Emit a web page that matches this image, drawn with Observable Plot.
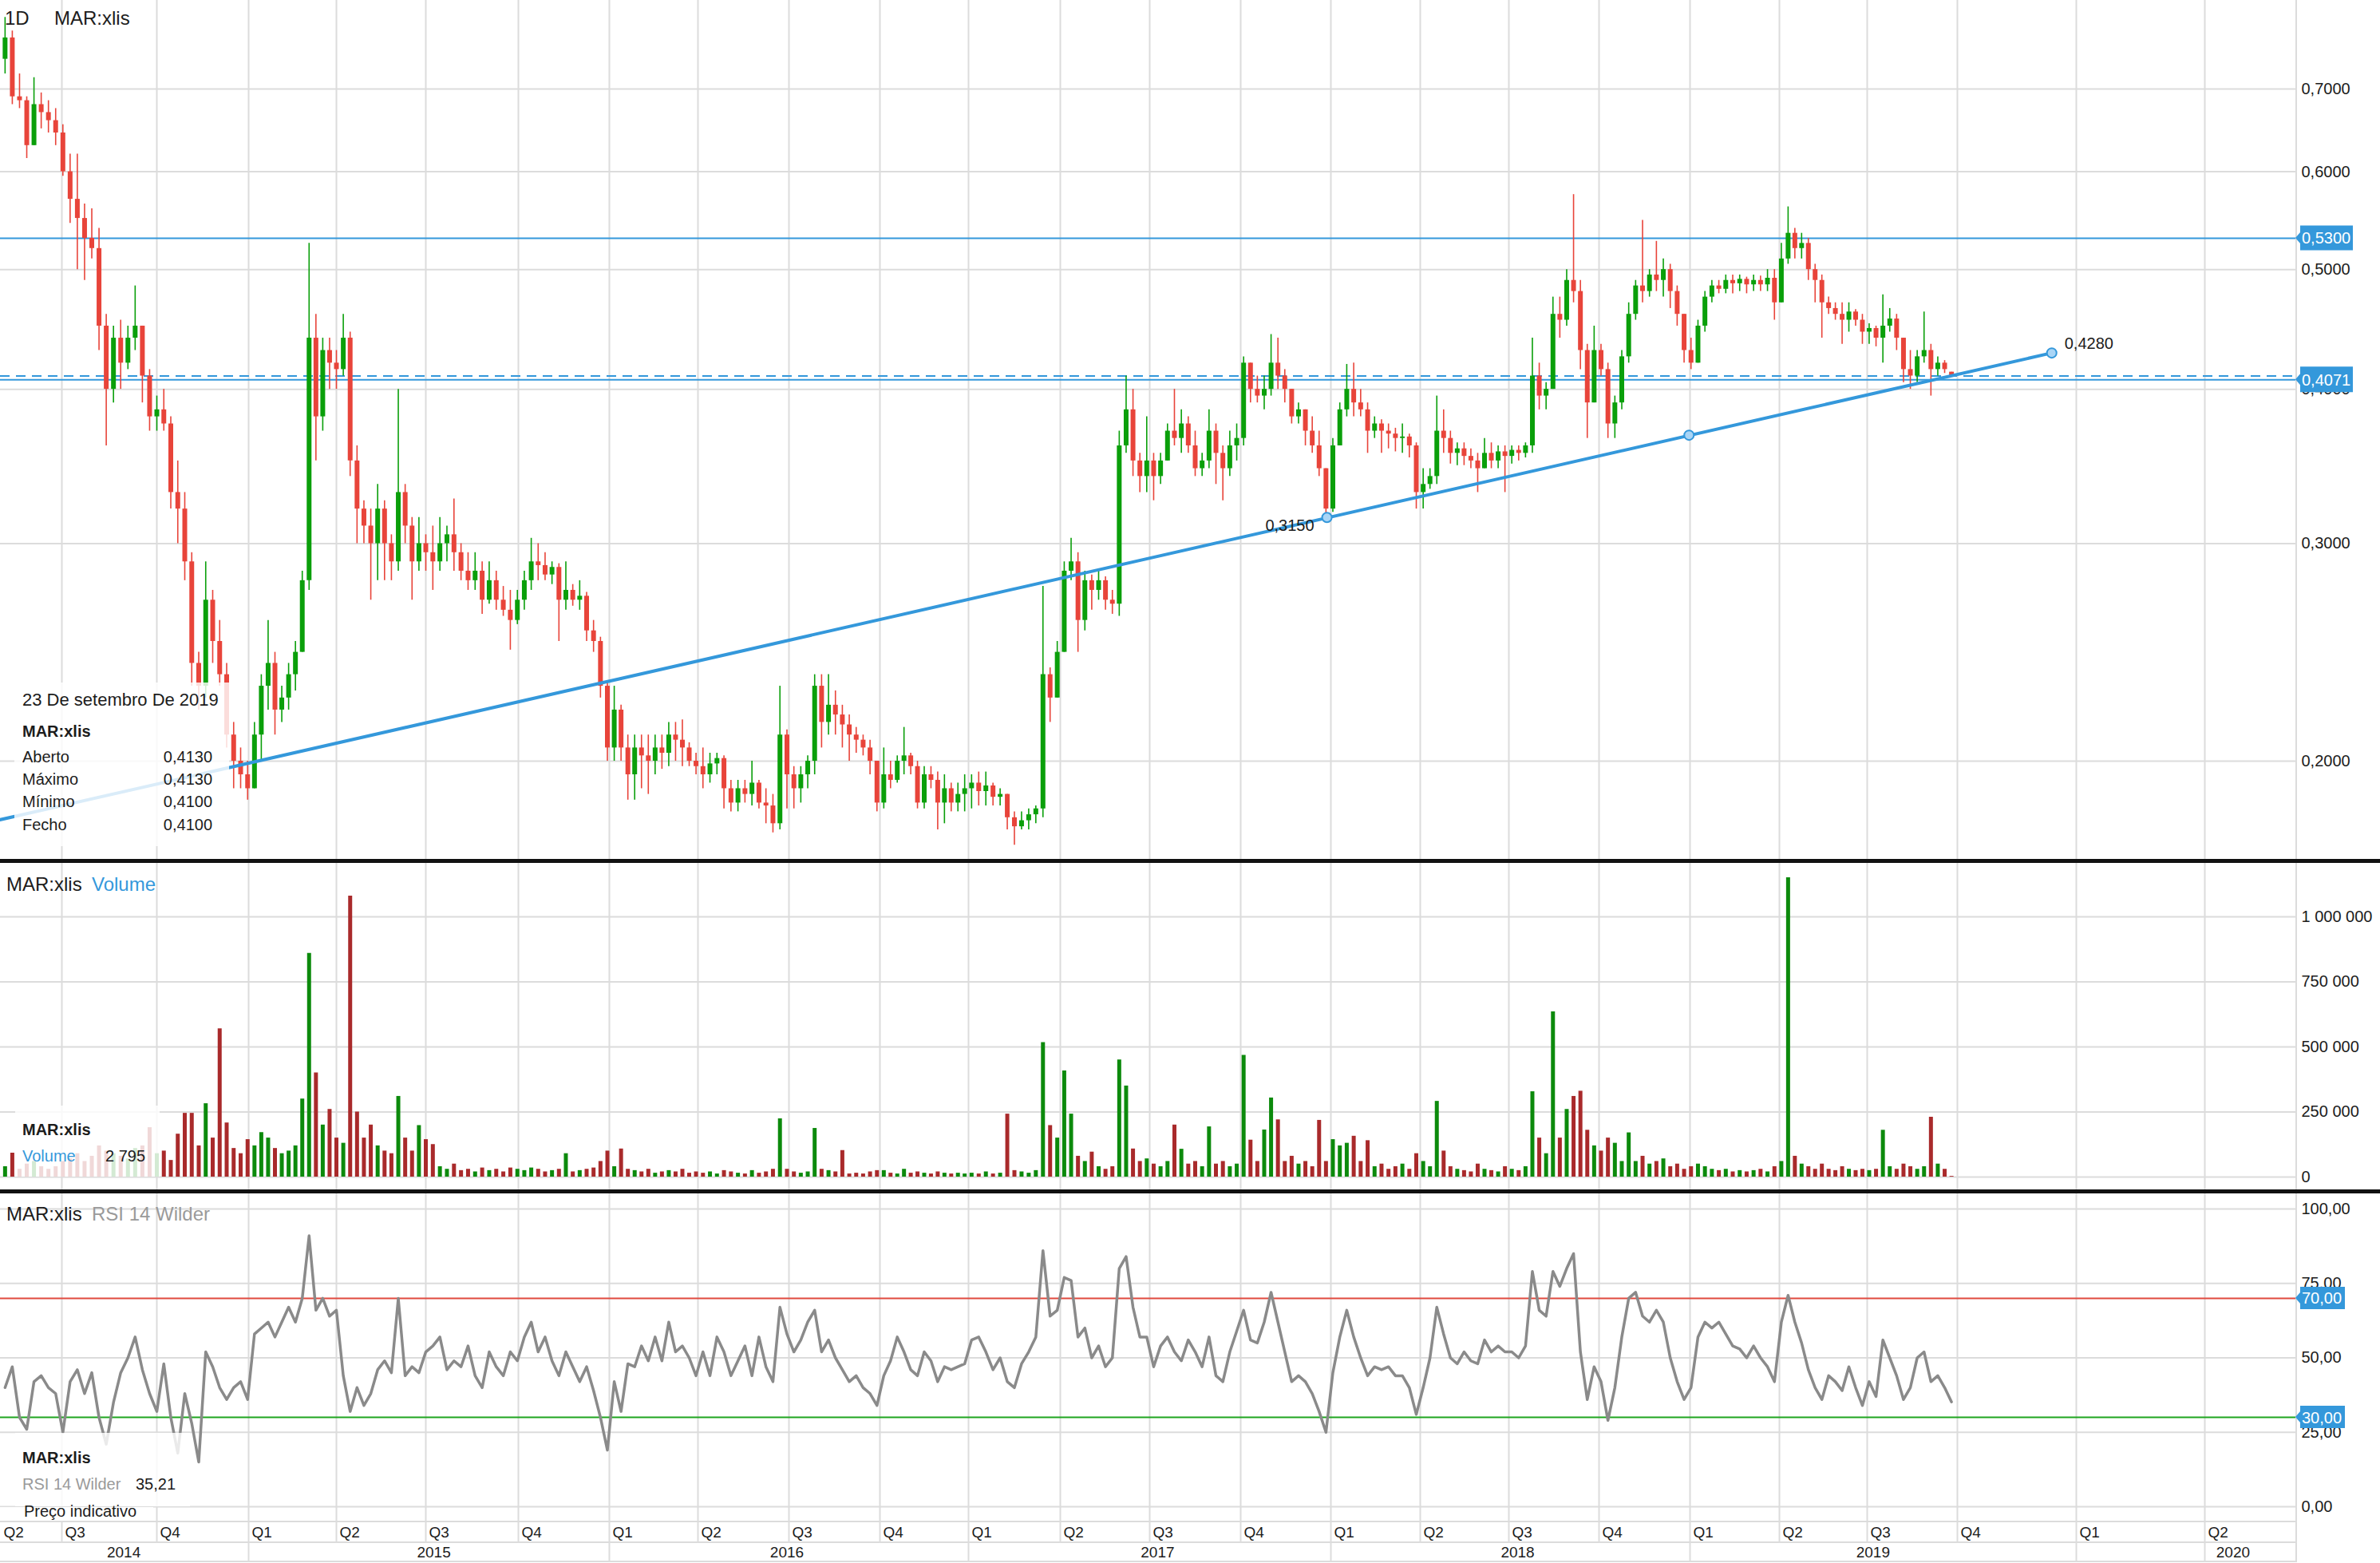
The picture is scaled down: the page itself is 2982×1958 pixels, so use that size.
<!DOCTYPE html>
<html lang="pt">
<head>
<meta charset="utf-8">
<title>MAR:xlis</title>
<script src="https://cdn.jsdelivr.net/npm/d3@7"></script>
<script src="https://cdn.jsdelivr.net/npm/@observablehq/plot@0.6"></script>
<style>
  html, body { margin: 0; padding: 0; background: #fff; }
  #chart { position: relative; width: 2982px; height: 1958px; overflow: hidden; background: #fff; }
  #chart > svg { position: absolute; left: 0; display: block; }
</style>
</head>
<body>
<div id="chart"></div>
<script>
// ---------------- DATA ----------------
const symbol = "MAR:xlis";
const firstWeek = "2014-05-05";   // weekly candles, Monday of each week
const lastWeek  = "2019-09-23";

// weekly candles [open, high, low, close]
const candles2014 = [
  [0.74,0.80,0.72,0.77],[0.77,0.78,0.68,0.69],[0.69,0.72,0.675,0.685],[0.685,0.69,0.615,0.63],[0.63,0.715,0.63,0.68],[0.68,0.695,0.65,0.67],[0.67,0.685,0.645,0.66],[0.66,0.675,0.63,0.645],[0.645,0.655,0.595,0.60],
  [0.60,0.62,0.545,0.57],[0.57,0.62,0.50,0.55],[0.55,0.565,0.49,0.53],[0.53,0.56,0.51,0.52],[0.52,0.54,0.43,0.45],[0.45,0.46,0.36,0.40],[0.40,0.45,0.39,0.44],[0.44,0.455,0.40,0.42],[0.42,0.45,0.415,0.44],[0.44,0.485,0.43,0.45],[0.45,0.45,0.39,0.41],[0.41,0.415,0.37,0.38],[0.38,0.395,0.37,0.385],
  [0.385,0.40,0.37,0.375],[0.375,0.38,0.32,0.33],[0.33,0.35,0.30,0.32],[0.32,0.33,0.28,0.29],[0.29,0.295,0.23,0.24],[0.24,0.245,0.22,0.23],[0.23,0.29,0.225,0.27],[0.27,0.275,0.24,0.25],[0.25,0.26,0.23,0.235],[0.235,0.24,0.205,0.21],[0.21,0.215,0.19,0.20],[0.20,0.205,0.19,0.195],[0.195,0.20,0.186,0.19]
];
const candles2015 = [
  [0.19,0.215,0.19,0.21],[0.21,0.235,0.20,0.23],[0.23,0.26,0.22,0.24],[0.24,0.245,0.21,0.22],[0.22,0.23,0.215,0.225],[0.225,0.24,0.22,0.235],[0.235,0.25,0.228,0.245],[0.245,0.285,0.245,0.28],[0.28,0.525,0.275,0.44],[0.44,0.46,0.35,0.38],[0.38,0.44,0.37,0.43],[0.43,0.44,0.40,0.42],[0.42,0.43,0.40,0.415],
  [0.415,0.46,0.41,0.44],[0.44,0.445,0.34,0.35],[0.35,0.36,0.30,0.32],[0.32,0.325,0.30,0.31],[0.31,0.32,0.27,0.30],[0.30,0.335,0.28,0.32],[0.32,0.325,0.28,0.30],[0.30,0.305,0.28,0.29],[0.29,0.40,0.285,0.33],[0.33,0.335,0.30,0.31],[0.31,0.315,0.27,0.29],[0.29,0.315,0.285,0.30],[0.30,0.305,0.285,0.295],
  [0.295,0.31,0.275,0.29],[0.29,0.315,0.285,0.30],[0.30,0.31,0.29,0.305],[0.305,0.326,0.285,0.295],[0.295,0.30,0.28,0.285],[0.285,0.295,0.275,0.28],[0.28,0.295,0.275,0.285],[0.285,0.29,0.263,0.27],[0.27,0.29,0.268,0.28],[0.28,0.285,0.265,0.27],[0.27,0.277,0.262,0.265],[0.265,0.275,0.246,0.26],[0.26,0.275,0.258,0.27],
  [0.27,0.285,0.265,0.28],[0.28,0.303,0.275,0.29],[0.29,0.30,0.28,0.288],[0.288,0.295,0.28,0.283],[0.283,0.29,0.278,0.287],[0.287,0.289,0.25,0.27],[0.27,0.29,0.265,0.275],[0.275,0.278,0.267,0.27],[0.27,0.28,0.265,0.272],[0.272,0.274,0.25,0.255],[0.255,0.26,0.245,0.25],[0.25,0.252,0.225,0.23],[0.23,0.232,0.20,0.205]
];
const candles2016 = [
  [0.205,0.23,0.20,0.22],[0.22,0.222,0.20,0.205],[0.205,0.21,0.186,0.195],[0.195,0.21,0.186,0.205],[0.205,0.21,0.19,0.202],[0.202,0.21,0.188,0.20],[0.20,0.21,0.195,0.205],[0.205,0.21,0.197,0.203],[0.203,0.215,0.198,0.21],[0.21,0.215,0.20,0.208],[0.208,0.216,0.198,0.205],[0.205,0.207,0.198,0.20],[0.20,0.203,0.195,0.198],
  [0.198,0.205,0.19,0.195],[0.195,0.203,0.192,0.199],[0.199,0.203,0.195,0.201],[0.201,0.202,0.183,0.19],[0.19,0.193,0.182,0.185],[0.185,0.193,0.182,0.19],[0.19,0.193,0.185,0.188],[0.188,0.20,0.184,0.192],[0.192,0.193,0.183,0.185],[0.185,0.19,0.178,0.184],[0.184,0.188,0.175,0.178],[0.178,0.23,0.176,0.21],[0.21,0.212,0.183,0.195],
  [0.195,0.198,0.183,0.19],[0.19,0.198,0.185,0.195],[0.195,0.202,0.19,0.20],[0.20,0.235,0.195,0.23],[0.23,0.235,0.205,0.215],[0.215,0.235,0.21,0.222],[0.222,0.228,0.21,0.218],[0.218,0.222,0.205,0.214],[0.214,0.218,0.20,0.21],[0.21,0.213,0.203,0.208],[0.208,0.21,0.202,0.205],[0.205,0.208,0.195,0.20],[0.20,0.20,0.182,0.185],
  [0.185,0.205,0.183,0.195],[0.195,0.20,0.19,0.193],[0.193,0.202,0.192,0.20],[0.20,0.213,0.195,0.202],[0.202,0.203,0.195,0.198],[0.198,0.20,0.183,0.185],[0.185,0.198,0.183,0.195],[0.195,0.198,0.19,0.193],[0.193,0.196,0.176,0.185],[0.185,0.195,0.178,0.19],[0.19,0.192,0.182,0.185],[0.185,0.192,0.182,0.188],[0.188,0.195,0.182,0.19]
];
const candles2017 = [
  [0.19,0.195,0.183,0.192],[0.192,0.196,0.184,0.189],[0.189,0.196,0.184,0.191],[0.191,0.192,0.184,0.187],[0.187,0.19,0.184,0.188],[0.188,0.188,0.176,0.18],[0.18,0.182,0.171,0.177],[0.177,0.182,0.176,0.179],[0.179,0.183,0.176,0.181],[0.181,0.184,0.178,0.183],[0.183,0.277,0.18,0.235],[0.235,0.238,0.215,0.225],[0.225,0.25,0.225,0.245],
  [0.245,0.29,0.245,0.285],[0.285,0.303,0.28,0.29],[0.29,0.295,0.245,0.26],[0.26,0.285,0.255,0.28],[0.28,0.283,0.265,0.275],[0.275,0.285,0.27,0.28],[0.28,0.282,0.265,0.27],[0.27,0.275,0.263,0.268],[0.268,0.37,0.262,0.36],[0.36,0.41,0.355,0.385],[0.385,0.40,0.34,0.35],[0.35,0.355,0.33,0.34],[0.34,0.38,0.33,0.35],
  [0.35,0.355,0.325,0.34],[0.34,0.355,0.335,0.35],[0.35,0.375,0.35,0.37],[0.37,0.40,0.36,0.365],[0.365,0.385,0.355,0.375],[0.375,0.38,0.355,0.36],[0.36,0.37,0.34,0.345],[0.345,0.355,0.34,0.35],[0.35,0.385,0.345,0.37],[0.37,0.375,0.335,0.355],[0.355,0.36,0.325,0.345],[0.345,0.37,0.34,0.36],[0.36,0.375,0.35,0.365],
  [0.365,0.425,0.36,0.42],[0.42,0.42,0.39,0.40],[0.40,0.41,0.39,0.395],[0.395,0.41,0.385,0.40],[0.40,0.443,0.395,0.42],[0.42,0.44,0.40,0.41],[0.41,0.415,0.39,0.40],[0.40,0.40,0.375,0.38],[0.38,0.39,0.375,0.385],[0.385,0.385,0.36,0.37],[0.37,0.38,0.355,0.36],[0.36,0.37,0.34,0.345],[0.345,0.345,0.315,0.32]
];
const candles2018 = [
  [0.32,0.365,0.318,0.36],[0.36,0.39,0.36,0.385],[0.385,0.419,0.38,0.40],[0.40,0.42,0.38,0.39],[0.39,0.40,0.38,0.385],[0.385,0.39,0.355,0.37],[0.37,0.38,0.365,0.375],[0.375,0.378,0.355,0.37],[0.37,0.375,0.358,0.368],[0.368,0.372,0.356,0.365],[0.365,0.375,0.355,0.366],[0.366,0.368,0.352,0.36],[0.36,0.362,0.32,0.33],
  [0.33,0.345,0.32,0.335],[0.335,0.345,0.332,0.34],[0.34,0.395,0.335,0.37],[0.37,0.385,0.355,0.365],[0.365,0.37,0.348,0.355],[0.355,0.362,0.347,0.358],[0.358,0.362,0.347,0.353],[0.353,0.358,0.345,0.35],[0.35,0.355,0.33,0.345],[0.345,0.365,0.345,0.355],[0.355,0.362,0.345,0.35],[0.35,0.36,0.345,0.356],[0.356,0.36,0.33,0.353],
  [0.353,0.36,0.348,0.357],[0.357,0.36,0.35,0.355],[0.355,0.362,0.352,0.36],[0.36,0.44,0.355,0.41],[0.41,0.42,0.385,0.395],[0.395,0.405,0.385,0.40],[0.40,0.475,0.40,0.46],[0.46,0.475,0.44,0.455],[0.455,0.50,0.45,0.49],[0.49,0.575,0.47,0.48],[0.48,0.49,0.415,0.43],[0.43,0.435,0.365,0.39],[0.39,0.45,0.39,0.43],
  [0.43,0.435,0.41,0.415],[0.415,0.42,0.365,0.375],[0.375,0.395,0.365,0.39],[0.39,0.43,0.385,0.425],[0.425,0.47,0.42,0.46],[0.46,0.49,0.455,0.485],[0.485,0.548,0.47,0.48],[0.48,0.50,0.475,0.495],[0.495,0.527,0.48,0.49],[0.49,0.51,0.475,0.50],[0.50,0.505,0.465,0.48],[0.48,0.485,0.45,0.46],[0.46,0.46,0.42,0.43],[0.43,0.44,0.415,0.42]
];
const candles2019 = [
  [0.42,0.455,0.42,0.45],[0.45,0.48,0.445,0.475],[0.475,0.49,0.47,0.485],[0.485,0.49,0.478,0.482],[0.482,0.495,0.478,0.49],[0.49,0.495,0.478,0.487],[0.487,0.495,0.48,0.491],[0.491,0.493,0.478,0.486],[0.486,0.495,0.48,0.49],[0.49,0.494,0.48,0.486],[0.486,0.50,0.48,0.492],[0.492,0.50,0.455,0.47],
  [0.47,0.525,0.47,0.51],[0.51,0.562,0.505,0.535],[0.535,0.54,0.51,0.52],[0.52,0.535,0.51,0.525],[0.525,0.53,0.49,0.50],[0.50,0.505,0.47,0.49],[0.49,0.495,0.44,0.47],[0.47,0.475,0.46,0.465],[0.465,0.47,0.455,0.46],[0.46,0.47,0.435,0.455],[0.455,0.47,0.445,0.462],[0.462,0.464,0.45,0.455],[0.455,0.46,0.435,0.445],
  [0.445,0.452,0.435,0.448],[0.448,0.45,0.433,0.44],[0.44,0.477,0.42,0.45],[0.45,0.465,0.445,0.456],[0.456,0.46,0.43,0.44],[0.44,0.44,0.405,0.415],[0.415,0.43,0.40,0.41],[0.41,0.43,0.405,0.425],[0.425,0.462,0.42,0.43],[0.43,0.435,0.395,0.415],[0.415,0.425,0.41,0.42],[0.42,0.422,0.412,0.415],[0.413,0.413,0.41,0.41]
];

// largest daily volume of each week, in thousands of shares
const volume2014 = [40,92,30,50,60,40,30,40,60, 70,90,60,80,120,100,90,80,70,110,120,190,90, 100,64,165,245,245,120,282,150,570,208,110,90,144];
const volume2015 = [120,171,150,110,90,100,120,300,860,400,200,260,150, 130,1080,250,150,200,120,100,90,310,150,100,198,144, 125,40,30,50,25,30,20,35,25,30,20,35,30, 25,35,30,20,25,30,90,20,25,30,35,60,100];
const volume2016 = [40,108,30,25,20,30,15,20,25,20,30,15,20, 15,20,12,25,20,15,12,25,15,20,30,224,30, 20,15,20,187,30,25,20,102,12,15,12,20,25, 25,15,12,30,15,20,15,12,20,15,12,15,12];
const volume2017 = [15,12,20,12,15,242,25,20,15,25,517,198,150, 408,242,80,60,96,40,30,40,450,350,108,60,70, 50,40,60,200,107,50,60,40,193,50,60,40,50, 468,142,60,181,304,220,60,80,50,60,40,218,60];
const volume2018 = [144,120,130,157,60,140,40,50,30,40,50,30,90, 60,40,291,100,40,30,25,20,50,30,25,20,40, 30,25,40,328,150,90,635,150,260,310,330,180,120, 100,150,130,60,170,60,80,50,60,70,40,50,30,40];
const volume2019 = [50,40,30,25,30,20,25,20,25,30,20,40, 60,1150,80,50,40,30,50,30,25,40,30,25,30, 25,30,180,40,30,50,40,30,40,230,50,30,2.795];

// RSI 14 (Wilder), one reading per week
const rsi2014 = [40,47,30,26,42,44,40,38,25, 42,46,38,45,30,21,35,45,50,57,46,38,32, 48,30,18,38,28,15,52,47,40,36,40,42,36];
const rsi2015 = [58,60,62,57,62,67,62,70,91,66,70,64,66, 44,32,40,34,38,46,49,45,70,44,47,45,52, 54,57,46,49,47,54,44,40,52,47,44,52,49, 57,62,52,57,49,44,52,47,42,47,39,30,19];
const rsi2016 = [42,32,48,47,54,49,57,49,62,52,54,50,44, 52,44,57,52,44,49,54,44,57,47,42,67,58, 52,56,62,66,52,56,50,46,42,44,40,38,34, 44,49,57,52,46,44,52,49,42,47,46,47,48];
const rsi2017 = [56,57,52,46,50,42,40,48,52,57,86,64,66, 77,76,57,60,50,54,47,50,80,84,67,57,57, 47,54,57,52,49,56,52,47,57,44,42,52,59, 66,56,55,62,72,62,52,42,44,42,38,32,25];
const rsi2018 = [45,57,66,57,50,44,47,46,47,44,44,40,31, 40,50,67,58,50,48,52,49,48,56,52,54,52, 52,50,54,79,66,64,79,74,80,85,52,36,47, 42,29,40,57,70,72,64,62,66,62,50,42,36,40];
const rsi2019 = [57,62,60,62,58,54,53,50,54,50,47,42, 62,71,62,55,46,40,36,44,42,39,47,40,34, 42,37,56,50,44,36,40,50,52,42,44,40,35.21];

// axis ticks
const priceTicks  = [0.2, 0.3, 0.4, 0.5, 0.6, 0.7];
const volumeTicks = [0, 250000, 500000, 750000, 1000000];
const rsiTicks    = [0, 25, 50, 75, 100];
const quarterStarts = ["2014-07-01","2014-10-01","2015-01-01","2015-04-01","2015-07-01","2015-10-01","2016-01-01","2016-04-01","2016-07-01","2016-10-01","2017-01-01","2017-04-01","2017-07-01","2017-10-01","2018-01-01","2018-04-01","2018-07-01","2018-10-01","2019-01-01","2019-04-01","2019-07-01","2019-10-01","2020-01-01","2020-04-01"];
const firstQuarter = "2014-04-01";
const yearStarts = ["2015-01-01","2016-01-01","2017-01-01","2018-01-01","2019-01-01","2020-01-01","2020-04-01"];
const yearLabels = ["2014","2015","2016","2017","2018","2019","2020"];
const yearLabelDates = ["2014-08-30","2015-07-09","2016-06-29","2017-07-09","2018-07-10","2019-07-07","2020-04-21"];

// drawn levels and trend line
const resistanceLevel = 0.5300;
const supportLevel = 0.4071;
const lastClose = 0.4100;
const trendEnds = [{date: "2014-05-02", price: 0.1793}, {date: "2019-12-13", price: 0.4280}];
const trendHandles = [
  {date: "2017-12-28", price: 0.3150, label: "0,3150", side: "left"},
  {date: "2018-12-31", price: 0.3672, label: "", side: "none"},
  {date: "2019-12-13", price: 0.4280, label: "0,4280", side: "right"}
];
const rsiOverbought = 70, rsiOversold = 30;

// tooltip of the last session
const lastSessionDate = "23 De setembro De 2019";
const lastSession = [["Aberto", 0.4130], ["Máximo", 0.4130], ["Mínimo", 0.4100], ["Fecho", 0.4100]];
const lastVolume = 2795;
const lastRsi = 35.21;

// ---------------- BUILD ----------------
const W = 2982, H = 1958;
const FONT = "'Liberation Sans', Arial, Helvetica, sans-serif";
const UP = "#0a9f0a", DOWN = "#e8443a", VOL_UP = "#0c8a0c", VOL_DOWN = "#a92a2b";
const BLUE = "#3498db", GRID = "#dcdcdc", INK = "#1c1c1c", GREY_TXT = "#9a9a9a";
const FRAME_RIGHT = 2877;

const loc = d3.formatLocale({decimal: ",", thousands: " ", grouping: [3], currency: ["", ""]});
const fmtPrice = loc.format(".4f"), fmtVol = loc.format(",d"), fmtRsi = loc.format(".2f");

const weeks = d3.utcMonday.range(new Date(firstWeek), d3.utcDay.offset(new Date(lastWeek), 1));
const ohlc = [].concat(candles2014, candles2015, candles2016, candles2017, candles2018, candles2019);
const vols = [].concat(volume2014, volume2015, volume2016, volume2017, volume2018, volume2019);
const rsis = [].concat(rsi2014, rsi2015, rsi2016, rsi2017, rsi2018, rsi2019);
const bars = weeks.filter((d, i) => i < ohlc.length).map((d, i) => ({
  mid: d3.utcDay.offset(d, 2),
  open: ohlc[i][0], high: ohlc[i][1], low: ohlc[i][2], close: ohlc[i][3],
  volume: vols[i] * 1000, rsi: rsis[i]
}));
const up = d => d.close >= d.open;

const qDates = quarterStarts.map(s => new Date(s));
// trading-day axis: each quarter boundary sits where the reference draws it
const X = {type: "utc", domain: qDates, range: [77,196,311,421,533,649,763,874,988,1102,1213,1328,1440,1554,1667,1779,1890,2003,2117,2229,2339,2452,2601,2762], axis: null};
const common = {width: W, marginLeft: 0, marginRight: W - FRAME_RIGHT, color: {type: "identity"},
  style: {fontFamily: FONT, fontSize: "20px", color: INK, background: "transparent", overflow: "visible"}};

const tEnds = trendEnds.map(d => ({date: new Date(d.date), price: d.price}));
const tHandles = trendHandles.map(d => ({...d, date: new Date(d.date)}));

const price = Plot.plot({
  ...common, height: 1078, marginTop: 0, marginBottom: 2,
  x: X,
  y: {type: "log", domain: [0.2, 0.7], range: [953, 111], axis: null},
  marks: [
    Plot.ruleY(priceTicks, {stroke: GRID, strokeWidth: 2}),
    Plot.ruleX(qDates, {stroke: GRID, strokeWidth: 2}),
    Plot.text(priceTicks, {y: d => d, text: d => fmtPrice(d), frameAnchor: "right", textAnchor: "start", dx: 6, fontSize: 20, fill: INK}),
    Plot.ruleY([resistanceLevel], {stroke: BLUE, strokeWidth: 2}),
    Plot.ruleY([supportLevel], {stroke: BLUE, strokeWidth: 2}),
    Plot.ruleY([lastClose], {stroke: BLUE, strokeWidth: 2, strokeDasharray: "12,8"}),
    Plot.ruleX(bars, {x: "mid", y1: "low", y2: "high", stroke: d => up(d) ? UP : DOWN, strokeWidth: 1.6}),
    Plot.ruleX(bars, {x: "mid", y1: "open", y2: "close", stroke: d => up(d) ? UP : DOWN, strokeWidth: 6}),
    Plot.line(tEnds, {x: "date", y: "price", stroke: BLUE, strokeWidth: 4}),
    Plot.dot(tHandles, {x: "date", y: "price", r: 6, fill: "#a9d5f6", stroke: BLUE, strokeWidth: 2}),
    Plot.text(tHandles.filter(d => d.side === "left"), {x: "date", y: "price", text: "label", textAnchor: "end", dx: -16, dy: 10, fontSize: 20, fill: INK}),
    Plot.text(tHandles.filter(d => d.side === "right"), {x: "date", y: "price", text: "label", textAnchor: "start", dx: 16, dy: -12, fontSize: 20, fill: INK})
  ]
});

const volume = Plot.plot({
  ...common, height: 412, marginTop: 3, marginBottom: 0,
  x: X,
  y: {domain: [0, 1000000], range: [396, 70], axis: null},
  marks: [
    Plot.ruleY(volumeTicks, {stroke: GRID, strokeWidth: 2}),
    Plot.ruleX(qDates, {stroke: GRID, strokeWidth: 2}),
    Plot.text(volumeTicks, {y: d => d, text: d => fmtVol(d), frameAnchor: "right", textAnchor: "start", dx: 6, fontSize: 20, fill: INK}),
    Plot.ruleX(bars, {x: "mid", y1: 0, y2: "volume", stroke: d => up(d) ? VOL_UP : VOL_DOWN, strokeWidth: 5})
  ]
});

const rsi = Plot.plot({
  ...common, height: 415, marginTop: 3, marginBottom: 0,
  x: X,
  y: {domain: [0, 100], range: [396, 23], axis: null},
  marks: [
    Plot.ruleY(rsiTicks, {stroke: GRID, strokeWidth: 2}),
    Plot.ruleX(qDates, {stroke: GRID, strokeWidth: 2}),
    Plot.text(rsiTicks, {y: d => d, text: d => fmtRsi(d), frameAnchor: "right", textAnchor: "start", dx: 6, fontSize: 20, fill: INK}),
    Plot.ruleY([rsiOverbought], {stroke: "#e04a3f", strokeWidth: 2}),
    Plot.ruleY([rsiOversold], {stroke: "#1fa51f", strokeWidth: 2}),
    Plot.line(bars, {x: "mid", y: "rsi", stroke: "#8a8a8a", strokeWidth: 3.5})
  ]
});

const xs = price.scale("x");
const leftEdge = xs.invert(0);
const qLabelData = [new Date(firstQuarter), ...qDates].map(d => ({at: d < leftEdge ? leftEdge : d, label: "Q" + (Math.floor(d.getUTCMonth() / 3) + 1)}));

const quarterRow = Plot.plot({
  ...common, height: 26, marginTop: 0, marginBottom: 0, x: X,
  marks: [
    Plot.ruleX(qDates, {stroke: GRID, strokeWidth: 2}),
    Plot.text(qLabelData, {x: "at", text: "label", textAnchor: "start", dx: 4, frameAnchor: "middle", fontSize: 19, fill: INK})
  ]
});
const yearRow = Plot.plot({
  ...common, height: 25, marginTop: 0, marginBottom: 0, x: X,
  marks: [
    Plot.ruleX(yearStarts.map(s => new Date(s)), {stroke: GRID, strokeWidth: 2}),
    Plot.text(yearLabels.map((y, i) => ({year: y, at: new Date(yearLabelDates[i])})), {x: "at", text: "year", textAnchor: "middle", frameAnchor: "middle", fontSize: 19, fill: INK})
  ]
});

const root = document.getElementById("chart");
[[price, 0], [volume, 1078], [rsi, 1491], [quarterRow, 1906], [yearRow, 1932]].forEach(([el, top]) => {
  el.style.position = "absolute"; el.style.top = top + "px"; el.style.left = "0px";
  el.style.maxWidth = "none";
  root.appendChild(el);
});

// ---------------- overlay: panel chrome, tags, legends ----------------
const ov = d3.select(root).append("svg").attr("width", W).attr("height", H)
  .style("position", "absolute").style("left", 0).style("top", 0).style("font-family", FONT);

ov.append("line").attr("x1", FRAME_RIGHT).attr("x2", FRAME_RIGHT).attr("y1", 0).attr("y2", 1957).attr("stroke", GRID).attr("stroke-width", 2);
[1906, 1932, 1956].forEach(y => ov.append("line").attr("x1", 0).attr("x2", FRAME_RIGHT).attr("y1", y).attr("y2", y).attr("stroke", GRID).attr("stroke-width", 2));
ov.append("rect").attr("x", 0).attr("y", 1076).attr("width", W).attr("height", 5).attr("fill", "#111");
ov.append("rect").attr("x", 0).attr("y", 1490).attr("width", W).attr("height", 5).attr("fill", "#111");

function tag(y, label, w, h) {
  const x0 = FRAME_RIGHT + 5;
  ov.append("path").attr("d", `M${FRAME_RIGHT - 1},${y} L${x0},${y - 7} L${x0},${y - h / 2} L${x0 + w},${y - h / 2} L${x0 + w},${y + h / 2} L${x0},${y + h / 2} L${x0},${y + 7} Z`).attr("fill", BLUE);
  ov.append("text").attr("x", x0 + 2).attr("y", y + 7.5).attr("fill", "#fff").attr("font-size", 20).text(label);
}
const py = price.scale("y"), ry = rsi.scale("y");
tag(py.apply(resistanceLevel), fmtPrice(resistanceLevel), 66, 31);
tag(py.apply(supportLevel), fmtPrice(supportLevel), 66, 32);
tag(1491 + ry.apply(rsiOverbought), fmtRsi(rsiOverbought), 56, 28);
tag(1491 + ry.apply(rsiOversold), fmtRsi(rsiOversold), 56, 28);

function txt(x, y, s, o = {}) {
  return ov.append("text").attr("x", x).attr("y", y).attr("font-size", o.size || 20)
    .attr("font-weight", o.weight || 400).attr("fill", o.fill || INK)
    .attr("text-anchor", o.anchor || "start").text(s);
}
// header
txt(6, 31, "1D", {size: 24});
txt(68, 31, symbol, {size: 24});

// price tooltip box
ov.append("rect").attr("x", 18).attr("y", 855).attr("width", 269).attr("height", 205).attr("fill", "#fff").attr("fill-opacity", 0.82);
txt(28, 884, lastSessionDate, {size: 22});
txt(28, 923, symbol, {weight: 700});
lastSession.forEach(([k, v], i) => {
  const y = 955 + i * 28.2;
  txt(28, y, k);
  txt(266, y, fmtPrice(v), {anchor: "end"});
});

// volume legends
txt(8, 1116, symbol, {size: 24});
txt(115, 1116, "Volume", {size: 24, fill: BLUE});
ov.append("rect").attr("x", 19).attr("y", 1385).attr("width", 181).attr("height", 89).attr("fill", "#fff").attr("fill-opacity", 0.82);
txt(28, 1422, symbol, {weight: 700});
txt(28, 1455, "Volume", {fill: BLUE});
txt(132, 1455, fmtVol(lastVolume));

// RSI legends
txt(8, 1529, symbol, {size: 24});
txt(115, 1529, "RSI 14 Wilder", {size: 24, fill: GREY_TXT});
ov.append("rect").attr("x", 19).attr("y", 1795).attr("width", 219).attr("height", 92).attr("fill", "#fff").attr("fill-opacity", 0.82);
txt(28, 1833, symbol, {weight: 700});
txt(28, 1866, "RSI 14 Wilder", {fill: GREY_TXT});
txt(170, 1866, fmtRsi(lastRsi));
ov.append("rect").attr("x", 0).attr("y", 1888).attr("width", 192).attr("height", 17).attr("fill", "#fff");
txt(30, 1900, "Preço indicativo");
</script>
</body>
</html>
